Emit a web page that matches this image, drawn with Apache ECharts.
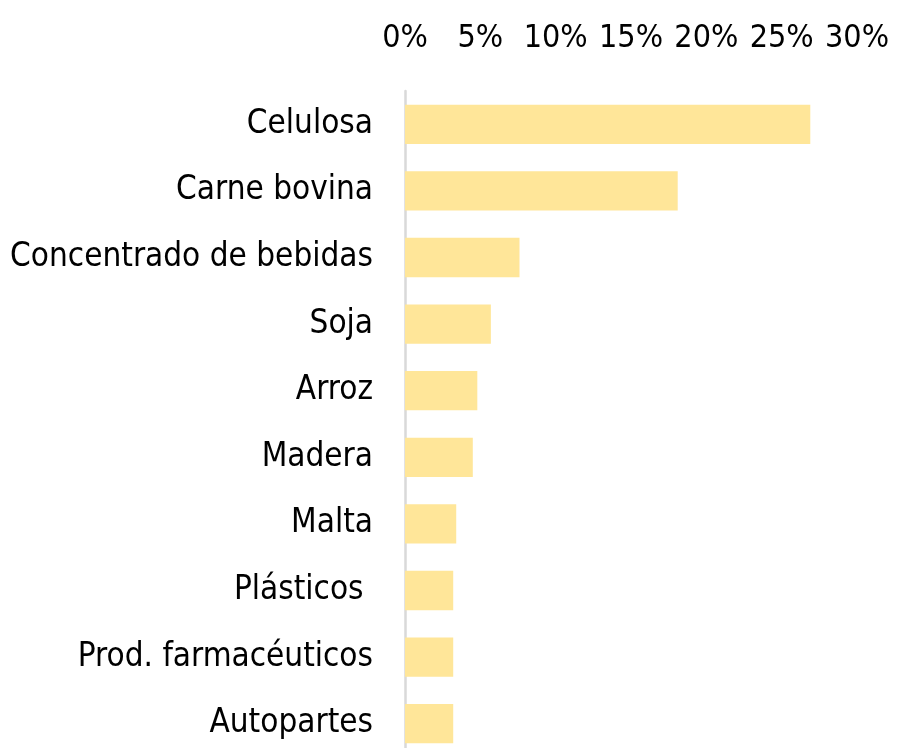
<!DOCTYPE html>
<html>
<head>
<meta charset="utf-8">
<script src="https://cdn.jsdelivr.net/npm/echarts@6/dist/echarts.min.js"></script>
<style>
  html, body { margin: 0; padding: 0; background: #fff; }
  #chart { width: 904px; height: 748px; }
</style>
</head>
<body>
<div id="chart"></div>
<script>
// categorias de arriba hacia abajo
const categories = [
  "Celulosa",
  "Carne bovina",
  "Concentrado de bebidas",
  "Soja",
  "Arroz",
  "Madera",
  "Malta",
  "Plásticos ",
  "Prod. farmacéuticos",
  "Autopartes"
];
// participacion (%)
const shares = [26.9, 18.1, 7.6, 5.7, 4.8, 4.5, 3.4, 3.2, 3.2, 3.2];
const xTicks = [0, 5, 10, 15, 20, 25, 30];

const font = "'DejaVu Sans Condensed', 'Liberation Sans Narrow', sans-serif";

const chart = echarts.init(document.getElementById("chart"));
chart.setOption({
  animation: false,
  grid: {
    left: 405, right: 47, top: 91, bottom: -9,
    containLabel: false,
    outerBoundsMode: "none"
  },
  xAxis: {
    type: "value",
    position: "top",
    min: xTicks[0],
    max: xTicks[xTicks.length - 1],
    interval: 5,
    axisLine: { show: false },
    axisTick: { show: false },
    splitLine: { show: false },
    axisLabel: {
      formatter: "{value}%",
      fontFamily: font,
      fontSize: 32,
      color: "#000",
      margin: 36,
      showMinLabel: true,
      showMaxLabel: true,
      hideOverlap: false
    }
  },
  yAxis: {
    type: "category",
    inverse: true,
    data: categories,
    axisLine: { show: true, lineStyle: { color: "#d9d9d9", width: 2.5 } },
    axisTick: { show: false },
    axisLabel: {
      fontFamily: font,
      fontSize: 33,
      color: "#000",
      margin: 32,
      interval: 0
    }
  },
  series: [
    {
      type: "bar",
      data: shares,
      barCategoryGap: "41%",
      itemStyle: { color: "#FFE699" },
      silent: true
    }
  ]
});
</script>
</body>
</html>
